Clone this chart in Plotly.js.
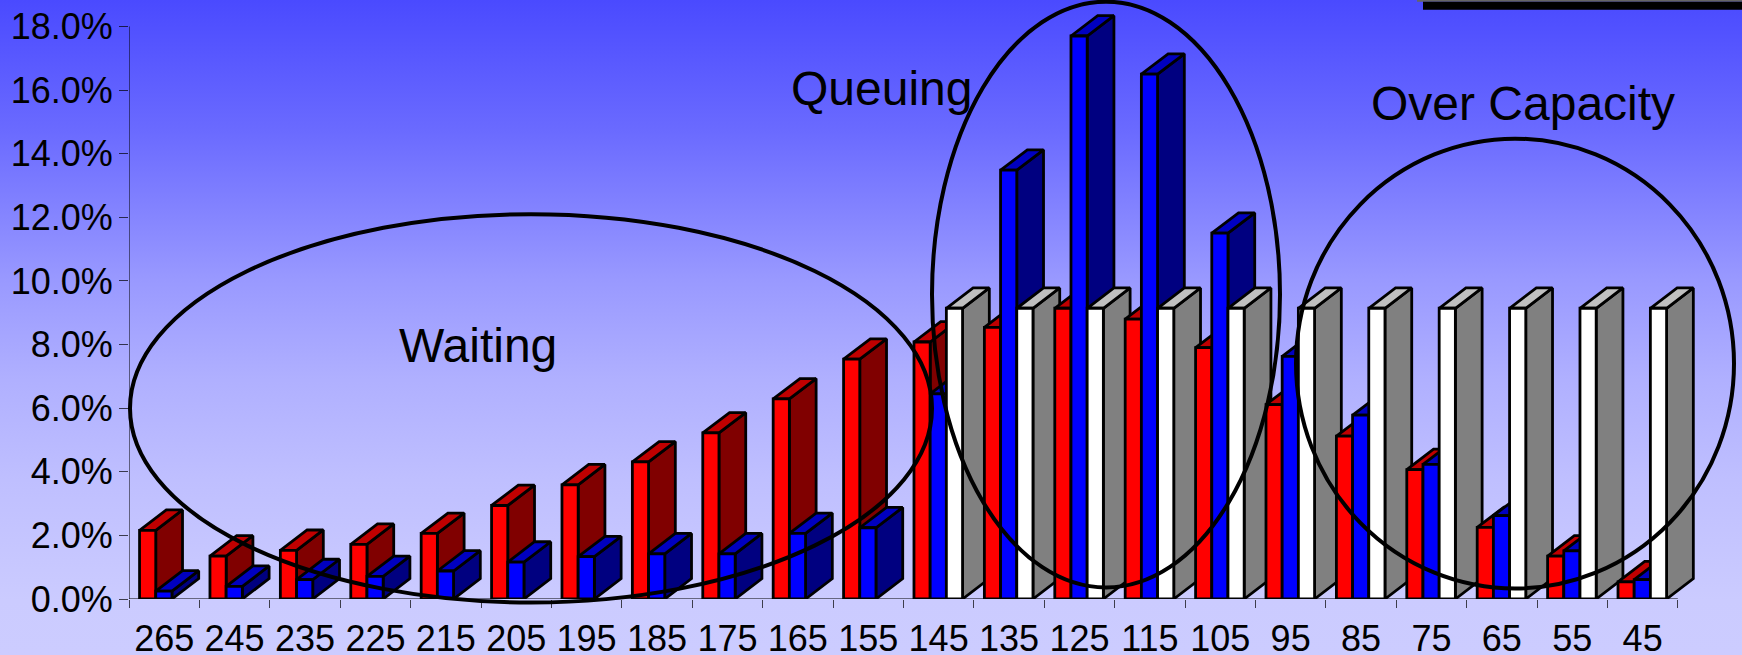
<!DOCTYPE html>
<html>
<head>
<meta charset="utf-8">
<script src="https://cdn.plot.ly/plotly-3.0.1.min.js"></script>
<style>
  html, body { margin: 0; padding: 0; width: 1742px; height: 655px; overflow: hidden; }
  body { background: linear-gradient(to bottom, #4a4aff 0px, #6a6aff 130px, #9999ff 280px, #b0b0ff 380px, #bfbfff 480px, #cbcbff 600px, #ccccff 655px); }
  #chart { width: 1742px; height: 655px; }
</style>
</head>
<body>
<div id="chart"></div>
<script>
// Share of traffic per speed band, three series per band
const speedBands = ['265','245','235','225','215','205','195','185','175','165','155','145','135','125','115','105','95','85','75','65','55','45'];
const redShare   = [2.16,1.35,1.53,1.72,2.06,2.94,3.59,4.31,5.22,6.29,7.54,8.08,8.54,9.14,8.8,7.9,6.11,5.12,4.07,2.25,1.35,0.54];
const blueShare  = [0.25,0.4,0.61,0.71,0.88,1.16,1.33,1.42,1.42,2.06,2.24,6.45,13.48,17.7,16.5,11.5,7.63,5.78,4.23,2.62,1.51,0.61];
const whiteShare = [null,null,null,null,null,null,null,null,null,null,null,9.14,9.14,9.14,9.14,9.14,9.14,9.14,9.14,9.14,9.14,9.14];
const yTicks = [0,2,4,6,8,10,12,14,16,18];

const W = 1742, H = 655;
// The plot area runs past 18% and past the last band so the extruded faces are not clipped;
// the visible axis lines stop at the last tick and are drawn as shapes.
const yTop = 18.8, xEnd = 22.4;
const margin = { l: 129, r: 36, t: 1.3, b: 55.5, pad: 0 };

// Fake-3D extrusion and bar placement, in axis units
const depthX = 0.38, depthY = 0.64;
const barStart = 0.15, barWidth = 0.23;

const palettes = [
  { values: redShare,   front: '#ff0000', top: '#c00000', side: '#800000' },
  { values: blueShare,  front: '#0000ff', top: '#0000c0', side: '#000080' },
  { values: whiteShare, front: '#ffffff', top: '#c0c0c0', side: '#808080' }
];

function facet(xs, ys, color) {
  return {
    type: 'scatter', mode: 'lines', x: xs, y: ys, fill: 'toself', fillcolor: color,
    line: { color: '#000000', width: 2.8, simplify: false },
    cliponaxis: false, hoverinfo: 'skip', showlegend: false
  };
}

// Painter's order: left to right, and within a band red, blue, white
const traces = [];
speedBands.forEach((_, i) => {
  palettes.forEach((p, s) => {
    const v = p.values[i];
    if (v === null) return;
    const x0 = i + barStart + s * barWidth, x1 = x0 + barWidth;
    traces.push(facet([x1, x1 + depthX, x1 + depthX, x1, x1], [0, depthY, v + depthY, v, 0], p.side));
    traces.push(facet([x0, x0 + depthX, x1 + depthX, x1, x0], [v, v + depthY, v + depthY, v, v], p.top));
    traces.push(facet([x0, x1, x1, x0, x0], [0, 0, v, v, 0], p.front));
  });
});

// Pixel position on the page to paper coordinates
const plotW = W - margin.l - margin.r, plotH = H - margin.t - margin.b;
const px = x => (x - margin.l) / plotW;
const py = y => 1 - (y - margin.t) / plotH;

function ellipse(left, right, top, bottom) {
  return { type: 'circle', xref: 'paper', yref: 'paper', x0: px(left), x1: px(right), y0: py(bottom), y1: py(top),
           line: { color: '#000000', width: 4 }, fillcolor: 'rgba(0,0,0,0)', layer: 'above' };
}
function block(left, right, top, bottom, fill) {
  return { type: 'rect', xref: 'paper', yref: 'paper', x0: px(left), x1: px(right), y0: py(bottom), y1: py(top),
           line: { width: 0 }, fillcolor: fill, layer: 'above' };
}
function axisLine(x0, y0, x1, y1) {
  return { type: 'line', xref: 'x', yref: 'y', x0, y0, x1, y1, line: { color: '#000000', width: 1 }, layer: 'below' };
}
function note(text, x, y) {
  return { text, xref: 'paper', yref: 'paper', x: px(x), y: py(y), xanchor: 'center', yanchor: 'middle', showarrow: false,
           font: { family: '"Liberation Sans", Arial, sans-serif', size: 48, color: '#000000' } };
}

const font = { family: '"Liberation Sans", Arial, sans-serif', size: 36, color: '#000000' };
const tickColor = 'rgba(0,0,0,0.7)';
const layout = {
  width: W, height: H, autosize: false, margin,
  paper_bgcolor: 'rgba(0,0,0,0)', plot_bgcolor: 'rgba(0,0,0,0)', showlegend: false, font,
  xaxis: {
    range: [0, xEnd], tickmode: 'array',
    tickvals: speedBands.map((_, i) => i + 0.5), ticktext: speedBands,
    ticks: '', ticklabelstandoff: 15, showgrid: false, zeroline: false,
    showline: false, tickfont: font, fixedrange: true,
    minor: { ticks: 'outside', ticklen: 8, tickwidth: 1, tickcolor: tickColor, showgrid: false,
             tickmode: 'array', tickvals: speedBands.map((_, i) => i).concat([speedBands.length]) }
  },
  yaxis: {
    range: [0, yTop], tickmode: 'array', tickvals: yTicks, ticktext: yTicks.map(v => v.toFixed(1) + '%'),
    ticks: 'outside', ticklen: 9, tickwidth: 1, tickcolor: tickColor, showgrid: false, zeroline: false,
    showline: false, tickfont: font, ticklabelstandoff: -1, fixedrange: true
  },
  shapes: [
    axisLine(0, 0, 0, yTicks[yTicks.length - 1]),
    axisLine(0, 0, speedBands.length, 0),
    ellipse(130, 932, 214.5, 603),
    ellipse(932, 1280, 2, 588),
    ellipse(1296, 1734, 139, 589),
    block(1417, 1742, 0, 2, '#666666'),
    block(1423, 1742, 2, 10, '#000000')
  ],
  annotations: [
    note('Queuing', 881, 89),
    note('Waiting', 478, 346),
    note('Over Capacity', 1523, 104)
  ]
};

Plotly.newPlot('chart', traces, layout, { displayModeBar: false, staticPlot: true });
</script>
</body>
</html>
